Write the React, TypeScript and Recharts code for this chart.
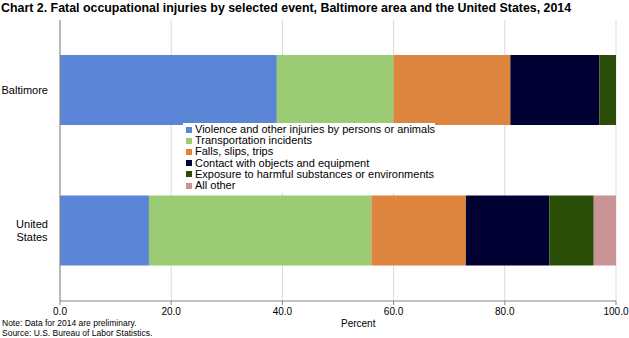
import { BarChart, Bar, XAxis, YAxis, CartesianGrid, Legend } from 'recharts';

const categories = ['Baltimore', 'United States'];
const violence = [39, 16];
const transportation = [21, 40];
const falls = [21, 17];
const contact = [16, 15];
const exposure = [3, 8];
const allOther = [0, 4];
const xTicks = [0, 20, 40, 60, 80, 100];

const series = [
  { key: 'violence', name: 'Violence and other injuries by persons or animals', color: '#5B85D6', values: violence },
  { key: 'transportation', name: 'Transportation incidents', color: '#9BCB72', values: transportation },
  { key: 'falls', name: 'Falls, slips, trips', color: '#DD843F', values: falls },
  { key: 'contact', name: 'Contact with objects and equipment', color: '#000033', values: contact },
  { key: 'exposure', name: 'Exposure to harmful substances or environments', color: '#2A4E07', values: exposure },
  { key: 'other', name: 'All other', color: '#C89393', values: allOther },
];

const data = categories.map((name, i) => {
  const row: Record<string, string | number> = { name };
  series.forEach((s) => {
    row[s.key] = s.values[i];
  });
  return row;
});

const font = '"Liberation Sans", Arial, sans-serif';

const CategoryTick = ({ y, payload }: any) => {
  const words = String(payload.value).split(' ');
  if (words.length === 1) {
    return (
      <text x={48} y={y} dy="0.35em" textAnchor="end" fontSize={11} fill="#000" fontFamily={font}>
        {payload.value}
      </text>
    );
  }
  return (
    <text x={32} y={y} textAnchor="middle" fontSize={11} fill="#000" fontFamily={font}>
      <tspan x={32} dy="-0.25em">{words[0]}</tspan>
      <tspan x={32} dy="1.2em">{words[1]}</tspan>
    </text>
  );
};

const LegendBox = () => (
  <div style={{ background: '#fff', padding: '1px 0 2px 3px', fontFamily: font, fontSize: 11, lineHeight: '11.2px', color: '#000' }}>
    {series.map((s) => (
      <div key={s.key} style={{ display: 'flex', alignItems: 'center', whiteSpace: 'nowrap' }}>
        <span style={{ display: 'inline-block', width: 6, height: 6, background: s.color, marginRight: 3 }} />
        {s.name}
      </div>
    ))}
  </div>
);

export default function App() {
  return (
    <div style={{ position: 'absolute', left: 0, top: 0, width: 629, height: 338, background: '#fff', fontFamily: font }}>
      <div
        style={{
          position: 'absolute',
          left: 1,
          top: 1,
          fontFamily: '"Liberation Sans Narrow", "Liberation Sans", Arial, sans-serif',
          fontWeight: 'bold',
          fontSize: 12.4,
          whiteSpace: 'nowrap',
          color: '#000',
        }}
      >
        Chart 2. Fatal occupational injuries by selected event, Baltimore area and the United States, 2014
      </div>
      <BarChart
        width={629}
        height={338}
        data={data}
        layout="vertical"
        margin={{ top: 20, right: 13, bottom: 7, left: 0 }}
      >
        <CartesianGrid horizontal={false} stroke="#d9d9d9" />
        <XAxis
          type="number"
          domain={[0, 100]}
          ticks={xTicks}
          tickFormatter={(v: number) => v.toFixed(1)}
          axisLine={{ stroke: '#868686' }}
          tickLine={{ stroke: '#868686' }}
          tickSize={4}
          tickMargin={3}
          height={30}
          tick={{ fontSize: 10, fill: '#000', fontFamily: font }}
        />
        <YAxis
          type="category"
          dataKey="name"
          width={60}
          axisLine={{ stroke: '#868686' }}
          tickLine={false}
          tick={<CategoryTick />}
        />
        <Legend
          layout="vertical"
          align="center"
          verticalAlign="middle"
          content={<LegendBox />}
          wrapperStyle={{ left: 183, top: 123, width: 'auto' }}
        />
        {series.map((s) => (
          <Bar
            key={s.key}
            dataKey={s.key}
            name={s.name}
            stackId="a"
            fill={s.color}
            barSize={70}
            isAnimationActive={false}
          />
        ))}
      </BarChart>
      <div style={{ position: 'absolute', left: 341, top: 318, fontSize: 10, color: '#000' }}>Percent</div>
      <div style={{ position: 'absolute', left: 2, top: 318, fontSize: 8.5, lineHeight: '10px', color: '#000' }}>
        <div>Note: Data for 2014 are preliminary.</div>
        <div>Source: U.S. Bureau of Labor Statistics.</div>
      </div>
    </div>
  );
}
